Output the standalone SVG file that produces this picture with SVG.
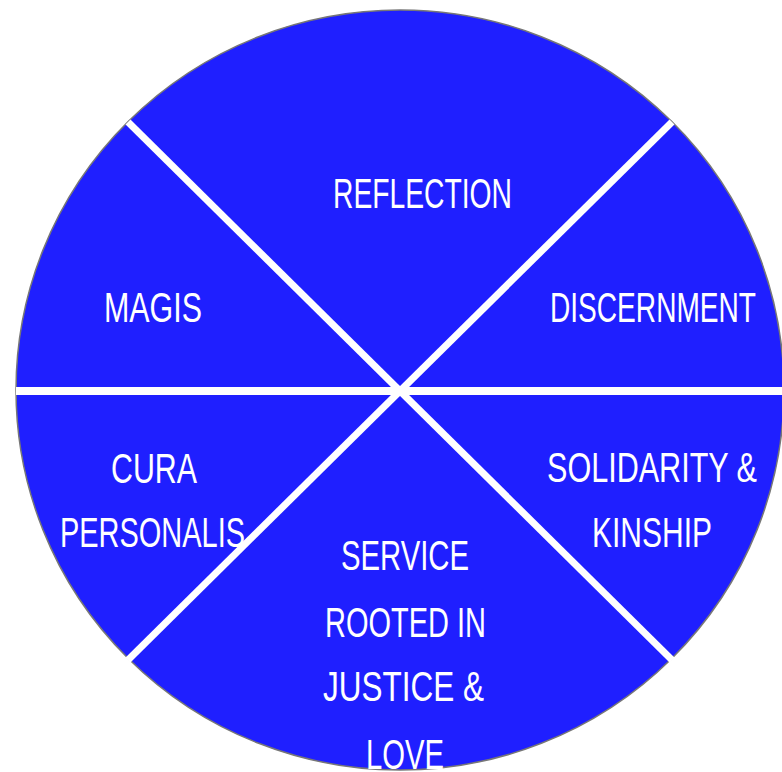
<svg xmlns="http://www.w3.org/2000/svg" width="782" height="772" viewBox="0 0 782 772">
<style>
.lbl{font-family:"Liberation Sans",Arial,sans-serif;font-size:43px;fill:#ffffff}
.div{stroke:#ffffff;fill:none}
</style>
<rect width="782" height="772" fill="#ffffff"/>
<g id="wheel">
<ellipse cx="400" cy="390" rx="384" ry="380" fill="#1f1fff" stroke="#777777" stroke-width="1.5"/>
</g>
<g id="connectors">
<line class="div" x1="16" y1="391" x2="784" y2="391" stroke-width="8"/>
<line class="div" x1="128" y1="122" x2="672" y2="660" stroke-width="7"/>
<line class="div" x1="672" y1="122" x2="128" y2="660" stroke-width="7"/>
</g>
<g id="reflection"><text class="lbl" x="333" y="208" textLength="179" lengthAdjust="spacingAndGlyphs">REFLECTION</text></g>
<g id="magis"><text class="lbl" x="104" y="322" textLength="98" lengthAdjust="spacingAndGlyphs">MAGIS</text></g>
<g id="discernment"><text class="lbl" x="550" y="322" textLength="206" lengthAdjust="spacingAndGlyphs">DISCERNMENT</text></g>
<g id="cura-personalis">
<text class="lbl" x="111" y="483" textLength="86" lengthAdjust="spacingAndGlyphs">CURA</text>
<text class="lbl" x="60" y="547" textLength="185" lengthAdjust="spacingAndGlyphs">PERSONALIS</text>
</g>
<g id="solidarity">
<text class="lbl" x="547" y="482" textLength="210" lengthAdjust="spacingAndGlyphs">SOLIDARITY &amp;</text>
<text class="lbl" x="592" y="547" textLength="120" lengthAdjust="spacingAndGlyphs">KINSHIP</text>
</g>
<g id="service">
<text class="lbl" x="341" y="570" textLength="128" lengthAdjust="spacingAndGlyphs">SERVICE</text>
<text class="lbl" x="325" y="637" textLength="161" lengthAdjust="spacingAndGlyphs">ROOTED IN</text>
<text class="lbl" x="323" y="701" textLength="161" lengthAdjust="spacingAndGlyphs">JUSTICE &amp;</text>
<text class="lbl" x="366" y="769" textLength="78" lengthAdjust="spacingAndGlyphs">LOVE</text>
</g>
</svg>
